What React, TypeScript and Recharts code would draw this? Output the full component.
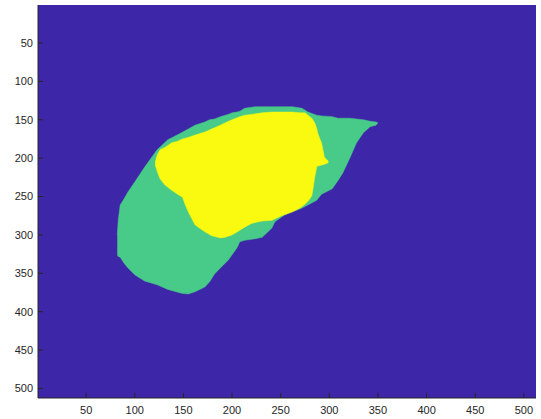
import React from "react";
import { ComposedChart, Area, XAxis, YAxis, CartesianGrid } from "recharts";

// image pixel columns, liver mask (green) and lesion mask (yellow)
const greenX = [82, 83, 85, 89, 93, 100, 110, 123, 134, 148, 155, 162, 172, 177, 182, 188, 196, 200, 205, 208, 213, 224, 231, 237, 241, 244, 254, 262, 272, 278, 287, 292, 303, 309, 314, 321, 328, 335, 342, 348, 350];
const greenTop = [300, 281, 261, 253, 244, 231, 212, 189, 176, 167, 162, 157, 153, 150, 149, 146, 143, 141, 140, 139, 135, 133, 133, 133, 133, 133, 133, 133, 135, 140, 144, 145, 146, 148, 148, 148, 149, 150, 152, 153, 154];
const greenBottom = [326, 328, 329, 337, 343, 352, 360, 365, 371, 376, 377, 374, 368, 361, 351, 343, 333, 326, 317, 309, 307, 305, 303, 296, 291, 283, 274, 270, 265, 261, 255, 247, 240, 229, 219, 200, 180, 167, 159, 157, 154];

const yellowX = [121, 123, 126, 131, 138, 144, 149, 152, 155, 162, 172, 179, 188, 193, 200, 208, 213, 220, 231, 241, 251, 262, 270, 275, 279, 282, 283, 285, 287, 288, 290, 292, 295, 299];
const yellowTop = [205, 196, 189, 186, 180, 178, 175, 174, 173, 170, 166, 162, 157, 154, 150, 146, 144, 143, 141, 140, 140, 140, 141, 141, 145, 148, 150, 154, 161, 167, 174, 180, 199, 204];
const yellowBottom = [209, 217, 227, 235, 242, 247, 251, 261, 270, 287, 296, 301, 304, 303, 300, 294, 290, 285, 282, 281, 275, 270, 265, 260, 255, 249, 242, 225, 212, 210, 210, 209, 208, 206];

const ticks = [50, 100, 150, 200, 250, 300, 350, 400, 450, 500];
const domain: [number, number] = [0.5, 512.5];

const xs = Array.from(new Set([...greenX, ...yellowX])).sort((a, b) => a - b);
const data = xs.map((x) => {
  const g = greenX.indexOf(x);
  const y = yellowX.indexOf(x);
  return {
    x,
    green: g >= 0 ? [greenTop[g], greenBottom[g]] : null,
    yellow: y >= 0 ? [yellowTop[y], yellowBottom[y]] : null,
  };
});

const axisColor = "#262626";
const tickStyle = { fill: axisColor, fontSize: 11, fontFamily: "'Liberation Sans', Arial, sans-serif" };

export default function App() {
  return (
    <div style={{ position: "absolute", left: 0, top: 0, background: "#fff" }}>
      <ComposedChart width={541} height={419} data={data} margin={{ top: 5, right: 5, bottom: 0, left: 0 }}>
        <CartesianGrid xAxisId="b" yAxisId="l" horizontal={false} vertical={false} fill="#3E26A8" fillOpacity={1} />
        <Area
          xAxisId="b"
          yAxisId="l"
          dataKey="green"
          type="linear"
          fill="#48CA88"
          fillOpacity={1}
          stroke="#48CA88"
          strokeWidth={0.5}
          connectNulls
          isAnimationActive={false}
        />
        <Area
          xAxisId="b"
          yAxisId="l"
          dataKey="yellow"
          type="linear"
          fill="#F9FA0F"
          fillOpacity={1}
          stroke="#F9FA0F"
          strokeWidth={0.5}
          connectNulls
          isAnimationActive={false}
        />
        <XAxis
          xAxisId="b"
          dataKey="x"
          type="number"
          domain={domain}
          allowDataOverflow
          ticks={ticks}
          tickSize={-5}
          tickMargin={13}
          height={21}
          stroke={axisColor}
          tick={tickStyle}
        />
        <XAxis
          xAxisId="t"
          orientation="top"
          dataKey="x"
          type="number"
          domain={domain}
          allowDataOverflow
          ticks={ticks}
          tickSize={-5}
          height={0}
          axisLine={{ stroke: "#9a9a9a" }}
          tickLine={{ stroke: axisColor }}
          tickFormatter={() => ""}
        />
        <YAxis
          yAxisId="l"
          type="number"
          reversed
          domain={domain}
          allowDataOverflow
          ticks={ticks}
          tickSize={-5}
          tickMargin={10}
          width={38}
          stroke={axisColor}
          tick={tickStyle}
        />
        <YAxis
          yAxisId="r"
          orientation="right"
          type="number"
          reversed
          domain={domain}
          allowDataOverflow
          ticks={ticks}
          tickSize={-5}
          width={0}
          stroke={axisColor}
          tickFormatter={() => ""}
        />
      </ComposedChart>
    </div>
  );
}
